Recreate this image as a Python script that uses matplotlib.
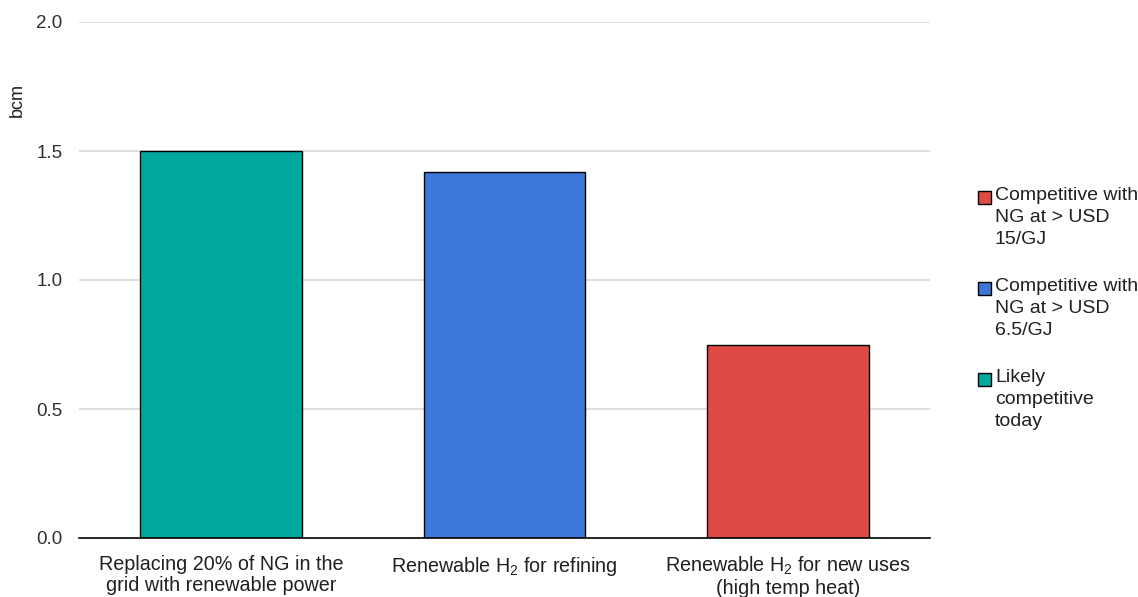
import matplotlib
matplotlib.use("Agg")
import matplotlib.pyplot as plt
from matplotlib.patches import Rectangle

categories = ["Replacing 20% of NG in the\ngrid with renewable power",
              "Renewable H$_2$ for refining",
              "Renewable H$_2$ for new uses\n(high temp heat)"]
values = [1.5, 1.42, 0.75]
bar_colors = ["#00A99D", "#3C78D8", "#E04A45"]
legend_labels = ["Competitive with\nNG at > USD\n15/GJ",
                 "Competitive with\nNG at > USD\n6.5/GJ",
                 "Likely\ncompetitive\ntoday"]
legend_colors = ["#E04A45", "#3C78D8", "#00A99D"]
yticks = [0.0, 0.5, 1.0, 1.5, 2.0]

plt.rcParams['font.family'] = ['Liberation Sans', 'DejaVu Sans']
plt.rcParams['mathtext.fontset'] = 'custom'
plt.rcParams['mathtext.rm'] = 'Liberation Sans'
plt.rcParams['mathtext.it'] = 'Liberation Sans'
plt.rcParams['mathtext.bf'] = 'Liberation Sans'

W, H = 1138, 597
fig = plt.figure(figsize=(W/100, H/100), dpi=100)
ax = fig.add_axes([79/W, 59/H, (930-79)/W, (538-22)/H])

x = list(range(len(categories)))
ax.bar(x, values, width=0.57, color=bar_colors, edgecolor="black", linewidth=1.0, zorder=3)
ax.set_xlim(-0.5, 2.5)
ax.set_ylim(0, 2.0)
ax.set_yticks(yticks)
ax.set_yticklabels([f"{v:.1f}" for v in yticks], fontsize=13.5, color="#303030")
ax.set_xticks(x)
ax.set_xticklabels(categories, fontsize=14.2, color="#202020", linespacing=1.15)
ax.tick_params(axis='both', length=0)
ax.tick_params(axis='y', pad=12)
ax.tick_params(axis='x', pad=12)
for t in yticks[1:]:
    ax.axhline(t, color="#D9D9D9", linewidth=1.2, zorder=1)
for s in ["top", "right", "left"]:
    ax.spines[s].set_visible(False)
ax.spines["bottom"].set_color("black")
ax.spines["bottom"].set_linewidth(1.2)
ax.spines["bottom"].set_zorder(4)
fig.text(17/W, 1 - 100/H, "bcm", rotation=90, ha="center", va="center", fontsize=13, color="#202020")

# legend drawn manually so the swatch aligns with the first text line
entry_y = [197, 288, 379]
for yc, col, lab in zip(entry_y, legend_colors, legend_labels):
    fig.patches.append(Rectangle((978/W, 1 - (yc + 6.5)/H), 13/W, 13/H, transform=fig.transFigure,
                                 facecolor=col, edgecolor="black", linewidth=1.0))
    fig.text(995/W, 1 - (yc - 10)/H, lab, ha="left", va="top", fontsize=14, color="#202020",
             linespacing=1.38)

fig.savefig("out.png", dpi=100)
